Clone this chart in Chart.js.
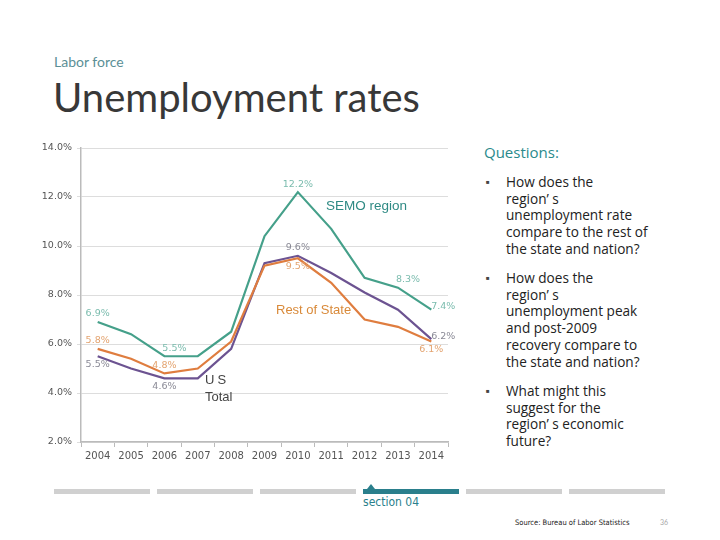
<!DOCTYPE html>
<html>
<head>
<meta charset="utf-8">
<script src="https://cdn.jsdelivr.net/npm/chart.js@4.4.1/dist/chart.umd.min.js"></script>
<style>
  html, body { margin: 0; padding: 0; background: #fff; }
  body { width: 720px; height: 540px; position: relative; overflow: hidden; font-family: Lato, "Open Sans", sans-serif; }
  .abs { position: absolute; white-space: nowrap; }
  #kicker { left: 54px; top: 53px; font-size: 14px; color: #5b8f96; }
  #title { left: 53px; top: 77px; font-size: 40px; line-height: 40px; color: #383838; }
  #chartBox { position: absolute; left: 30px; top: 135px; width: 440px; height: 335px; }
  #questions { left: 484px; top: 142px; font-family: "Open Sans", sans-serif; font-size: 15px; color: #2a8a8c; }
  .q { position: absolute; left: 485px; font-family: "Open Sans", sans-serif; font-size: 13.6px; line-height: 16.7px; color: #222; }
  .q .b { position: absolute; left: 1px; top: 0; font-size: 6px; color: #444; }
  .q .t { position: absolute; left: 21px; top: 0; white-space: nowrap; }
  .note { position: absolute; font-family: Arial, "Liberation Sans", sans-serif; white-space: nowrap; }
  .seg { position: absolute; top: 489px; height: 5px; width: 96px; background: #d0d0d0; }
</style>
</head>
<body>
<div class="abs" id="kicker">Labor force</div>
<div class="abs" id="title">Unemployment rates</div>

<div id="chartBox"><canvas id="chart"></canvas></div>

<div class="note" style="left:326px; top:198px; font-size:13.5px; color:#2f8a84;">SEMO region</div>
<div class="note" style="left:276px; top:302px; font-size:13px; color:#d98a3a;">Rest of State</div>
<div class="note" style="left:205px; top:372px; font-size:13px; color:#444; letter-spacing:3px;">US</div>
<div class="note" style="left:205px; top:389px; font-size:13px; color:#444;">Total</div>

<div class="abs" id="questions">Questions:</div>
<div class="q" style="top:174px;"><span class="b">■</span><span class="t">How does the<br>region’ s<br>unemployment rate<br>compare to the rest of<br>the state and nation?</span></div>
<div class="q" style="top:270px;"><span class="b">■</span><span class="t">How does the<br>region’ s<br>unemployment peak<br>and post-2009<br>recovery compare to<br>the state and nation?</span></div>
<div class="q" style="top:383px;"><span class="b">■</span><span class="t">What might this<br>suggest for the<br>region’ s economic<br>future?</span></div>

<div class="seg" style="left:54px;"></div>
<div class="seg" style="left:157px;"></div>
<div class="seg" style="left:260px;"></div>
<div class="seg" style="left:363px; background:#2a7f8c;"></div>
<div class="seg" style="left:466px;"></div>
<div class="seg" style="left:569px;"></div>
<div class="abs" style="left:367px; top:484px; width:0; height:0; border-left:4px solid transparent; border-right:4px solid transparent; border-bottom:5px solid #2a7f8c;"></div>
<div class="abs" style="left:363px; top:495px; font-size:12px; color:#2a7f8c; font-family:'DejaVu Sans Condensed', 'Liberation Sans Narrow', sans-serif;">section 04</div>
<div class="abs" style="left:515px; top:518px; font-size:7.5px; color:#222; font-family:'Liberation Sans Narrow', 'DejaVu Sans Condensed', sans-serif;">Source: Bureau of Labor Statistics</div>
<div class="abs" style="left:660px; top:518px; font-size:7px; color:#aaa;">36</div>

<script>
const years = ['2004','2005','2006','2007','2008','2009','2010','2011','2012','2013','2014'];
const semo = [6.9, 6.4, 5.5, 5.5, 6.5, 10.4, 12.2, 10.7, 8.7, 8.3, 7.4];
const restOfState = [5.8, 5.4, 4.8, 5.0, 6.1, 9.2, 9.5, 8.5, 7.0, 6.7, 6.1];
const usTotal = [5.5, 5.0, 4.6, 4.6, 5.8, 9.3, 9.6, 8.9, 8.1, 7.4, 6.2];
const yTicks = [2, 4, 6, 8, 10, 12, 14];

// which points get a value label, and where it sits
const labelSpots = [
  { series: 0, idx: [0, 2, 6, 9, 10], pos: ['above', 'aboveRight', 'above', 'aboveRight', 'right'], color: '#7bbcae' },
  { series: 1, idx: [0, 2, 6, 10], pos: ['above', 'above', 'below', 'below'], color: '#e3a36f' },
  { series: 2, idx: [0, 2, 6, 10], pos: ['below', 'below', 'above', 'right'], color: '#8a8a96' }
];

const valueLabels = {
  id: 'valueLabels',
  afterDatasetsDraw(chart) {
    const ctx = chart.ctx;
    ctx.save();
    ctx.font = '9.5px "DejaVu Sans", sans-serif';
    ctx.textAlign = 'center';
    ctx.textBaseline = 'middle';
    labelSpots.forEach(spot => {
      const meta = chart.getDatasetMeta(spot.series);
      const data = chart.data.datasets[spot.series].data;
      ctx.fillStyle = spot.color;
      spot.idx.forEach((i, k) => {
        const p = meta.data[i];
        let dx = 0, dy = 0;
        switch (spot.pos[k]) {
          case 'above': dy = -8; break;
          case 'below': dy = 8; break;
          case 'aboveRight': dx = 10; dy = -8; break;
          case 'right': dx = 12; dy = -3; break;
        }
        ctx.fillText(data[i].toFixed(1) + '%', p.x + dx, p.y + dy);
      });
    });
    ctx.restore();
  }
};

new Chart(document.getElementById('chart'), {
  type: 'line',
  data: {
    labels: years,
    datasets: [
      { label: 'SEMO region', data: semo, borderColor: '#45a08a', borderWidth: 2.2, pointRadius: 0, tension: 0 },
      { label: 'Rest of State', data: restOfState, borderColor: '#df7d3f', borderWidth: 2.2, pointRadius: 0, tension: 0 },
      { label: 'US Total', data: usTotal, borderColor: '#6c5391', borderWidth: 2.2, pointRadius: 0, tension: 0 }
    ]
  },
  options: {
    responsive: true,
    maintainAspectRatio: false,
    animation: false,
    layout: { padding: { top: 13, right: 22, left: 0, bottom: 0 } },
    plugins: { legend: { display: false }, tooltip: { enabled: false } },
    scales: {
      x: {
        offset: true,
        grid: { display: true, drawOnChartArea: false, offset: true, color: '#bbb', tickLength: 5 },
        border: { color: '#bbb', width: 1.5 },
        ticks: { color: '#555', font: { size: 10, family: '"DejaVu Sans", sans-serif' }, padding: 3, maxRotation: 0 },
        afterFit: s => { s.height = 28; }
      },
      y: {
        min: 2, max: 14,
        afterBuildTicks: s => { s.ticks = yTicks.map(v => ({ value: v })); },
        grid: { color: '#ddd', tickLength: 4 },
        border: { color: '#bbb', width: 1.5 },
        ticks: { color: '#555', font: { size: 9.5, family: '"DejaVu Sans", sans-serif' }, padding: 5, callback: v => v.toFixed(1) + '%' },
        afterFit: s => { s.width = 51; }
      }
    }
  },
  plugins: [valueLabels]
});
</script>
</body>
</html>
